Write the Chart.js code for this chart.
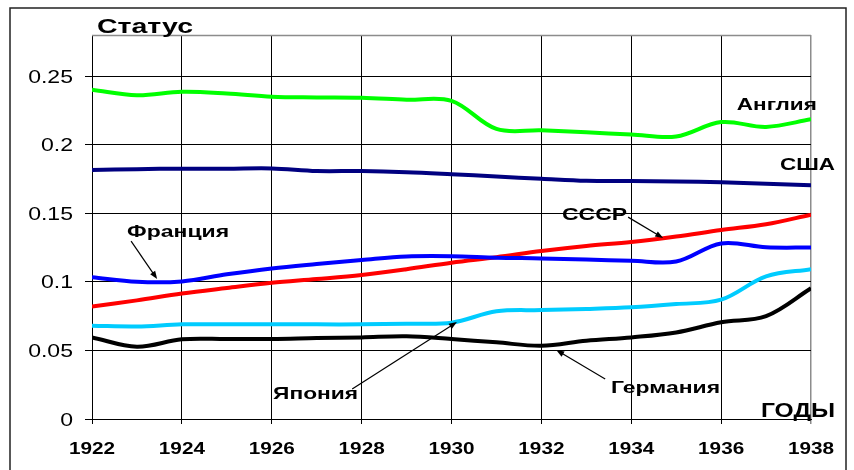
<!DOCTYPE html>
<html><head><meta charset="utf-8">
<script src="https://cdn.jsdelivr.net/npm/chart.js@4"></script>
<style>html,body{margin:0;padding:0;background:#fff}canvas{display:block}</style>
</head><body>
<canvas id="c" width="854" height="470"></canvas>
<script>
// ---- data ----
const years = [1922,1923,1924,1925,1926,1927,1928,1929,1930,1931,1932,1933,1934,1935,1936,1937,1938];
const england = [0.240,0.236,0.2386,0.2374,0.235,0.2345,0.2342,0.2328,0.232,0.2115,0.2105,0.209,0.2075,0.206,0.2165,0.213,0.2185];
const usa     = [0.1815,0.1822,0.1825,0.1825,0.1827,0.1808,0.1808,0.1800,0.1785,0.1768,0.1752,0.1737,0.1735,0.1732,0.1726,0.1715,0.1705];
const ussr    = [0.082,0.0865,0.0915,0.0955,0.0993,0.102,0.105,0.1092,0.114,0.118,0.1225,0.1262,0.129,0.133,0.1378,0.142,0.149];
const france  = [0.1033,0.1000,0.1003,0.1055,0.1098,0.1130,0.1159,0.1185,0.1187,0.1176,0.1171,0.1163,0.1154,0.1148,0.1280,0.1252,0.1250];
const japan   = [0.068,0.0675,0.069,0.069,0.069,0.069,0.069,0.0695,0.0702,0.0785,0.0794,0.0802,0.0814,0.0838,0.087,0.104,0.1093];
const germany = [0.0595,0.0527,0.0581,0.0583,0.0583,0.0590,0.0595,0.0603,0.0583,0.0559,0.0534,0.0571,0.0595,0.0631,0.0705,0.0750,0.0953];
const seriesNames  = ['Англия','США','Франция','СССР','Япония','Германия'];
const seriesValues = [england, usa, france, ussr, japan, germany];
const seriesColors = ['#00FF00','#000080','#0000FF','#FF0000','#00CCFF','#000000'];
const xTickValues = [1922,1924,1926,1928,1930,1932,1934,1936,1938];
const yTickValues = [0,0.05,0.1,0.15,0.2,0.25];
const yTickLabels = ['0','0.05','0.1','0.15','0.2','0.25'];
const yTitle = 'Статус';
const xTitle = 'ГОДЫ';
// annotation labels: [text, year, value, target width]
const labelTexts = ['Англия','США','СССР','Франция','Япония','Германия'];
const labelYears = [1936.35,1937.31,1932.46,1922.78,1926.03,1933.55];
const labelVals  = [0.2255,0.1819,0.1454,0.1330,0.0149,0.0186];
const labelWidths = [80,55,65,102,85,109];
// arrows: from (year,value) to (year,value)
const arrowFrom = [[1933.93,0.1472],[1922.87,0.1297],[1927.79,0.0219],[1933.42,0.0292]];
const arrowTo   = [[1934.71,0.1319],[1923.45,0.1020],[1930.12,0.0707],[1932.33,0.0503]];

function stretchText(ctx, text, x, y, font, sx, align){
  ctx.save();
  ctx.font = font;
  ctx.textBaseline = 'alphabetic';
  ctx.textAlign = align;
  ctx.translate(x, y);
  ctx.scale(sx, 1);
  ctx.fillStyle = '#000';
  ctx.fillText(text, 0, 0);
  ctx.restore();
}
function fitText(ctx, text, x, y, font, w, align){
  ctx.save(); ctx.font = font; const m = ctx.measureText(text).width; ctx.restore();
  stretchText(ctx, text, x, y, font, w / m, align);
}

const decor = {
  id: 'decor',
  beforeDraw(chart){
    const ctx = chart.ctx;
    ctx.save(); ctx.fillStyle = '#fff'; ctx.fillRect(0,0,chart.width,chart.height); ctx.restore();
  },
  beforeDatasetsDraw(chart){
    const ctx = chart.ctx, a = chart.chartArea;
    ctx.save();
    ctx.strokeStyle = '#8c8c8c'; ctx.lineWidth = 1.5;
    ctx.beginPath(); ctx.moveTo(a.left, a.top + 0.5); ctx.lineTo(a.right, a.top + 0.5); ctx.stroke();
    ctx.restore();
  },
  afterDraw(chart){
    const ctx = chart.ctx, a = chart.chartArea;
    const xs = chart.scales.x, ys = chart.scales.y;
    // outer frame
    ctx.save();
    ctx.strokeStyle = '#222'; ctx.lineWidth = 1.5;
    ctx.strokeRect(10, 8, 836, 500);
    ctx.restore();
    // tick labels from the scales
    ys.ticks.forEach((t,i) => {
      const py = ys.getPixelForValue(t.value);
      stretchText(ctx, yTickLabels[i], 73, py + 6.5, '18px "Liberation Sans", Arial, sans-serif', 1.28, 'right');
    });
    xs.ticks.forEach(t => {
      const px = xs.getPixelForValue(t.value);
      stretchText(ctx, String(t.value), px, 454, 'bold 17px "Liberation Sans", Arial, sans-serif', 1.22, 'center');
    });
    // axis titles
    fitText(ctx, yTitle, a.left + 5, a.top - 2, 'bold 21px "Liberation Sans", Arial, sans-serif', 96, 'left');
    fitText(ctx, xTitle, a.right + 24, a.bottom - 2, 'bold 21px "Liberation Sans", Arial, sans-serif', 74, 'right');
    // series labels
    labelTexts.forEach((txt,i) => {
      fitText(ctx, txt, xs.getPixelForValue(labelYears[i]), ys.getPixelForValue(labelVals[i]),
        'bold 17px "Liberation Sans", Arial, sans-serif', labelWidths[i], 'left');
    });
    // arrows
    ctx.save();
    ctx.strokeStyle = '#000'; ctx.fillStyle = '#000'; ctx.lineWidth = 1.2;
    arrowFrom.forEach((f,i) => {
      const x1 = xs.getPixelForValue(f[0]), y1 = ys.getPixelForValue(f[1]);
      const x2 = xs.getPixelForValue(arrowTo[i][0]), y2 = ys.getPixelForValue(arrowTo[i][1]);
      const ang = Math.atan2(y2-y1, x2-x1), L = 8, W = 3;
      ctx.beginPath(); ctx.moveTo(x1,y1); ctx.lineTo(x2 - Math.cos(ang)*4, y2 - Math.sin(ang)*4); ctx.stroke();
      ctx.beginPath();
      ctx.moveTo(x2, y2);
      ctx.lineTo(x2 - L*Math.cos(ang) + W*Math.sin(ang), y2 - L*Math.sin(ang) - W*Math.cos(ang));
      ctx.lineTo(x2 - L*Math.cos(ang) - W*Math.sin(ang), y2 - L*Math.sin(ang) + W*Math.cos(ang));
      ctx.closePath(); ctx.fill();
    });
    ctx.restore();
  }
};

new Chart(document.getElementById('c'), {
  type: 'line',
  data: {
    datasets: seriesNames.map((n,i) => ({
      label: n,
      data: years.map((yr,j) => ({x: yr, y: seriesValues[i][j]})),
      borderColor: seriesColors[i],
      backgroundColor: seriesColors[i],
      borderWidth: 4,
      pointRadius: 0,
      tension: 0.35,
      fill: false
    }))
  },
  options: {
    responsive: false,
    animation: false,
    devicePixelRatio: 1,
    layout: {padding: {top: 35, right: 43, left: 0, bottom: 0}},
    plugins: {legend: {display: false}, tooltip: {enabled: false}},
    scales: {
      x: {
        type: 'linear', min: 1922, max: 1938,
        afterBuildTicks: s => { s.ticks = xTickValues.map(v => ({value: v})); },
        afterFit: s => { s.height = 51; },
        ticks: {display: false},
        grid: {
          color: c => (c.tick && c.tick.value === 1938) ? '#8c8c8c' : '#000',
          lineWidth: c => (c.tick && c.tick.value === 1938) ? 1.5 : 1,
          drawTicks: true, tickLength: 5
        },
        border: {display: true, color: '#000'}
      },
      y: {
        type: 'linear', min: 0, max: 0.28,
        afterBuildTicks: s => { s.ticks = yTickValues.map(v => ({value: v})); },
        afterFit: s => { s.width = 92; },
        ticks: {display: false},
        grid: {color: '#000', lineWidth: 1, drawTicks: true, tickLength: 7},
        border: {display: false}
      }
    }
  },
  plugins: [decor]
});
</script>
</body></html>
